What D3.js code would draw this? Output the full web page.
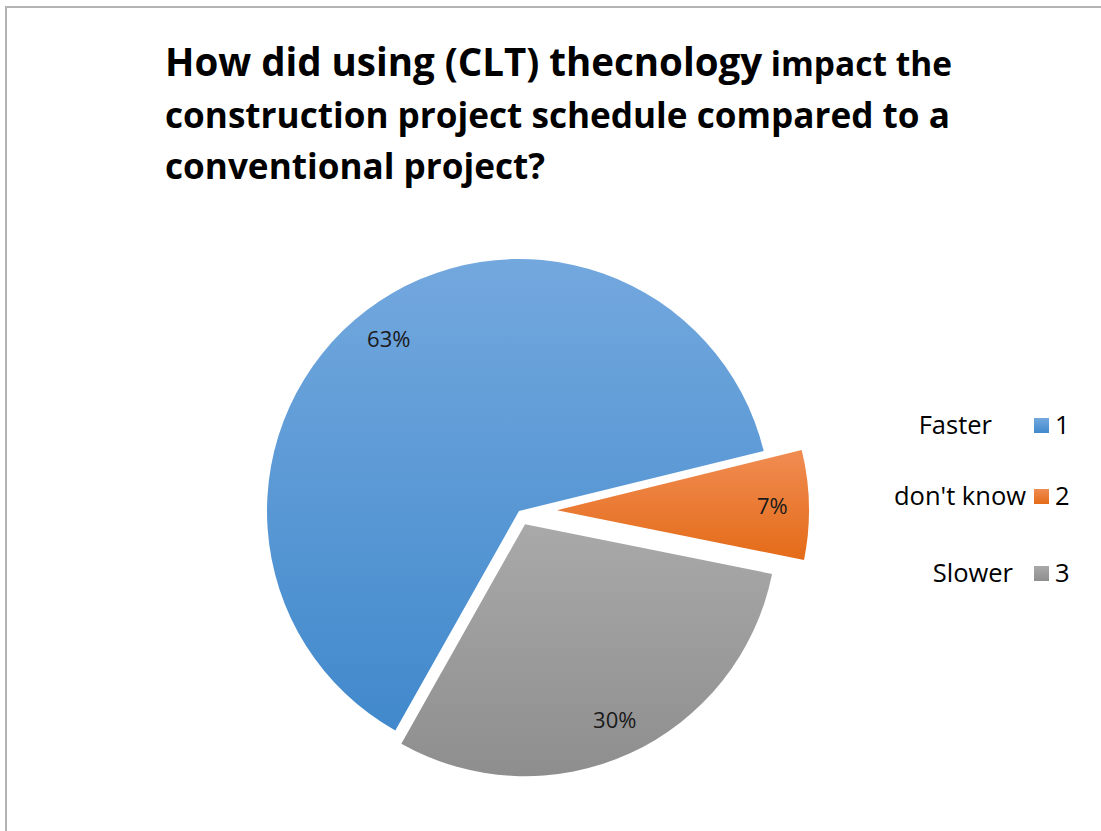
<!DOCTYPE html>
<html>
<head>
<meta charset="utf-8">
<script src="https://cdn.jsdelivr.net/npm/d3@7"></script>
<style>
  html, body { margin: 0; padding: 0; background: #fff; }
  svg { display: block; }
</style>
</head>
<body>
<svg id="chart" width="1101" height="831"></svg>
<script>
// Survey answers (share of respondents, %)
const categories = ["Faster", "don't know", "Slower"];
const seriesKeys = ["1", "2", "3"];
const values = [63, 7, 30];
const labels = ["63%", "7%", "30%"];
const titleLines = [
  [["How did using (CLT) thecnology", 1.15], [" impact the", 1]],
  [["construction project schedule compared to a", 1]],
  [["conventional project?", 1]]
];

// Slice styling: vertical gradients, top -> bottom
const gradTop = ["#73a8de", "#f08c52", "#a9a9a9"];
const gradBottom = ["#4189cc", "#e46b18", "#8e8e8e"];
const explode = [0, 38, 14.5];

const svg = d3.select("#chart");
const W = 1101, H = 831;
const font = "'Open Sans', 'DejaVu Sans', sans-serif";

// chart frame
svg.append("rect")
  .attr("x", 6).attr("y", 7)
  .attr("width", W + 10).attr("height", H + 10)
  .attr("fill", "#fff")
  .attr("stroke", "#b4b4b4")
  .attr("stroke-width", 2);

// title, fitted to the plot width
const title = svg.append("g").attr("font-family", font).attr("font-weight", 700).attr("fill", "#000");
const baseSize = 33;
const baselines = [76, 128, 179];
const titleTexts = titleLines.map((parts, i) => {
  const t = title.append("text").attr("x", 165).attr("y", baselines[i]);
  parts.forEach(([s, k]) => t.append("tspan").text(s).attr("data-k", k).attr("font-size", baseSize * k));
  return t;
});
const w2 = titleTexts[1].node().getComputedTextLength();
const scale = 785 / w2;
titleTexts.forEach(t => t.selectAll("tspan").attr("font-size", function () {
  return baseSize * (+this.getAttribute("data-k")) * scale;
}));
// size the first line to its width
const w1 = titleTexts[0].node().getComputedTextLength();
const k1 = 787 / w1;
titleTexts[0].selectAll("tspan").attr("font-size", function () {
  return baseSize * (+this.getAttribute("data-k")) * scale * k1;
});

// gradients
const defs = svg.append("defs");
values.forEach((v, i) => {
  const g = defs.append("linearGradient")
    .attr("id", "grad" + i)
    .attr("x1", 0).attr("y1", 0).attr("x2", 0).attr("y2", 1);
  g.append("stop").attr("offset", "0%").attr("stop-color", gradTop[i]);
  g.append("stop").attr("offset", "100%").attr("stop-color", gradBottom[i]);
});

// pie
const cx = 519, cy = 511, R = 252;
const start = 209.4 * Math.PI / 180;
const pie = d3.pie().sort(null).value(d => d).startAngle(start).endAngle(start + 2 * Math.PI);
const arcs = pie(values);
const arc = d3.arc().innerRadius(0).outerRadius(R);
const labelArc = d3.arc().innerRadius(R * 0.855).outerRadius(R * 0.855);

const pieG = svg.append("g").attr("transform", `translate(${cx},${cy})`);
const slice = pieG.selectAll("g.slice").data(arcs).join("g")
  .attr("class", "slice")
  .attr("transform", (d, i) => {
    const a = (d.startAngle + d.endAngle) / 2;
    return `translate(${Math.sin(a) * explode[i]},${-Math.cos(a) * explode[i]})`;
  });
slice.append("path")
  .attr("d", arc)
  .attr("fill", (d, i) => `url(#grad${i})`);
slice.append("text")
  .attr("transform", d => `translate(${labelArc.centroid(d)})`)
  .attr("text-anchor", "middle")
  .attr("dy", "0.36em")
  .attr("font-family", font)
  .attr("font-size", 22)
  .attr("fill", "#1a1a1a")
  .text((d, i) => labels[i]);

// legend: category captions beside the series keys
const legendY = [434, 505, 582];
const captionEnd = [992, 1026, 1013];
const legend = svg.append("g").attr("font-family", font).attr("font-size", 25.5).attr("fill", "#000");
categories.forEach((c, i) => {
  legend.append("text").attr("x", captionEnd[i]).attr("y", legendY[i]).attr("text-anchor", "end").text(c);
  legend.append("rect")
    .attr("x", 1034).attr("y", legendY[i] - 16)
    .attr("width", 15).attr("height", 15)
    .attr("fill", `url(#grad${i})`);
  legend.append("text").attr("x", 1055).attr("y", legendY[i]).text(seriesKeys[i]);
});
</script>
</body>
</html>
